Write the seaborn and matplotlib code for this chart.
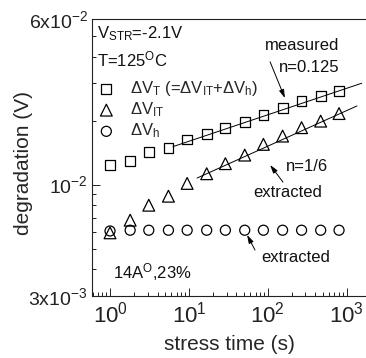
import matplotlib
matplotlib.use("Agg")
import matplotlib.pyplot as plt
import seaborn as sns
import pandas as pd
from matplotlib.ticker import FixedLocator, FixedFormatter, NullFormatter

# ---- data ----
time_s = [1.0, 1.8, 3.1, 5.5, 9.5, 16.8, 29, 51, 88, 154, 268, 468, 800]
dVT = [0.01235, 0.0129, 0.01423, 0.0149, 0.01632, 0.01737, 0.01854,
       0.0197, 0.02126, 0.02304, 0.02476, 0.02614, 0.0276]
dVIT = [0.00593, 0.0068, 0.0080, 0.00882, 0.01013, 0.01125, 0.01255,
        0.01377, 0.01547, 0.01692, 0.01854, 0.0199, 0.0216]
dVh = [0.00605, 0.0061, 0.0061, 0.0061, 0.0061, 0.0061, 0.0061,
       0.0061, 0.0061, 0.0061, 0.0061, 0.0061, 0.0061]
fitT_t = [6.3, 1550]
fitT_v = [0.0151, 0.0300]
fitIT_t = [12.7, 1350]
fitIT_v = [0.01074, 0.02346]

xticks = [1, 10, 100, 1000]
xticklabels = ["10$^{0}$", "10$^{1}$", "10$^{2}$", "10$^{3}$"]
yticks = [3e-3, 1e-2, 6e-2]
yticklabels = ["3x10$^{-3}$", "10$^{-2}$", "6x10$^{-2}$"]

sns.set_style("ticks")
plt.rcParams["font.family"] = ["Liberation Sans", "DejaVu Sans"]
plt.rcParams["mathtext.fontset"] = "custom"
plt.rcParams["mathtext.rm"] = "Liberation Sans"
plt.rcParams["mathtext.it"] = "Liberation Sans"
plt.rcParams["mathtext.default"] = "regular"

fig = plt.figure(figsize=(3.66, 3.58), dpi=100)
ax = fig.add_axes([92 / 366, (358 - 295.7) / 358, 1 - 92 / 366, (295.7 - 19.3) / 358])

df_T = pd.DataFrame({"t": time_s, "v": dVT})
df_IT = pd.DataFrame({"t": time_s, "v": dVIT})
df_h = pd.DataFrame({"t": time_s, "v": dVh})
fit_T = pd.DataFrame({"t": fitT_t, "v": fitT_v})
fit_IT = pd.DataFrame({"t": fitIT_t, "v": fitIT_v})

sns.lineplot(data=fit_T, x="t", y="v", ax=ax, color="black", lw=0.7, legend=False)
sns.lineplot(data=fit_IT, x="t", y="v", ax=ax, color="black", lw=0.7, legend=False)

sns.scatterplot(data=df_T, x="t", y="v", ax=ax, marker="s", s=50,
                facecolor="none", edgecolor="black", linewidth=0.9,
                label="ΔV$_{\\mathregular{T}}$ (=ΔV$_{\\mathregular{IT}}$+ΔV$_{\\mathregular{h}}$)")
sns.scatterplot(data=df_IT, x="t", y="v", ax=ax, marker="^", s=72,
                facecolor="none", edgecolor="black", linewidth=0.9,
                label="ΔV$_{\\mathregular{IT}}$")
sns.scatterplot(data=df_h, x="t", y="v", ax=ax, marker="o", s=52,
                facecolor="none", edgecolor="black", linewidth=0.9,
                label="ΔV$_{\\mathregular{h}}$")

ax.set_xscale("log")
ax.set_yscale("log")
ax.set_xlim(0.591, 1757)
ax.set_ylim(3e-3, 6e-2)

ax.xaxis.set_major_locator(FixedLocator(xticks))
ax.xaxis.set_major_formatter(FixedFormatter(xticklabels))
ax.xaxis.set_minor_locator(matplotlib.ticker.LogLocator(base=10, subs=range(2, 10)))
ax.xaxis.set_minor_formatter(NullFormatter())
ax.yaxis.set_major_locator(FixedLocator(yticks))
ax.yaxis.set_major_formatter(FixedFormatter(yticklabels))
ax.yaxis.set_minor_locator(FixedLocator([4e-3, 5e-3, 6e-3, 7e-3, 8e-3, 9e-3, 2e-2, 3e-2, 4e-2, 5e-2]))
ax.yaxis.set_minor_formatter(NullFormatter())

ax.tick_params(which="both", direction="in", top=False, right=False, width=0.7, colors="#222222")
ax.tick_params(which="major", length=6)
ax.tick_params(which="minor", length=3)
ax.tick_params(axis="x", which="major", labelsize=16, pad=4)
ax.tick_params(axis="y", which="major", labelsize=14, pad=3)
for side in ["left", "bottom", "top"]:
    ax.spines[side].set_linewidth(0.8)
    ax.spines[side].set_color("#222222")
ax.spines["right"].set_visible(False)

ax.set_xlabel("stress time (s)", fontsize=15, labelpad=6)
ax.set_ylabel("degradation (V)", fontsize=15)
ax.yaxis.set_label_coords(-0.215, 0.48)

leg = ax.legend(loc="upper left", bbox_to_anchor=(98 / 366, 1 - 79 / 358),
                bbox_transform=fig.transFigure, frameon=False, fontsize=12,
                handlelength=1.0, handletextpad=0.9, labelspacing=0.15,
                borderpad=0, borderaxespad=0)

tkw = dict(transform=ax.transAxes, fontsize=12, color="#111111")
ax.text(0.018, 0.947, "V$_{\\mathregular{STR}}$=-2.1V", ha="left", va="center", **tkw)
ax.text(0.018, 0.853, "T=125$^{\\mathregular{O}}$C", ha="left", va="center", **tkw)
ax.text(0.221, 0.086, "14A$^{\\mathregular{O}}$,23%", ha="center", va="center", **tkw)
ax.text(0.766, 0.907, "measured", ha="center", va="center", **tkw)
ax.text(0.792, 0.827, "n=0.125", ha="center", va="center", **tkw)
ax.text(0.786, 0.466, "n=1/6", ha="center", va="center", **tkw)
ax.text(0.714, 0.375, "extracted", ha="center", va="center", **tkw)
ax.text(0.745, 0.140, "extracted", ha="center", va="center", **tkw)

akw = dict(xycoords="axes fraction", textcoords="axes fraction",
           arrowprops=dict(arrowstyle="-|>,head_length=0.5,head_width=0.15",
                           color="black", lw=0.7, shrinkA=0, shrinkB=0))
ax.annotate("", xy=(0.704, 0.715), xytext=(0.650, 0.846), **akw)
ax.annotate("", xy=(0.650, 0.473), xytext=(0.697, 0.411), **akw)
ax.annotate("", xy=(0.566, 0.220), xytext=(0.595, 0.165), **akw)

fig.savefig("out.png", dpi=100)
